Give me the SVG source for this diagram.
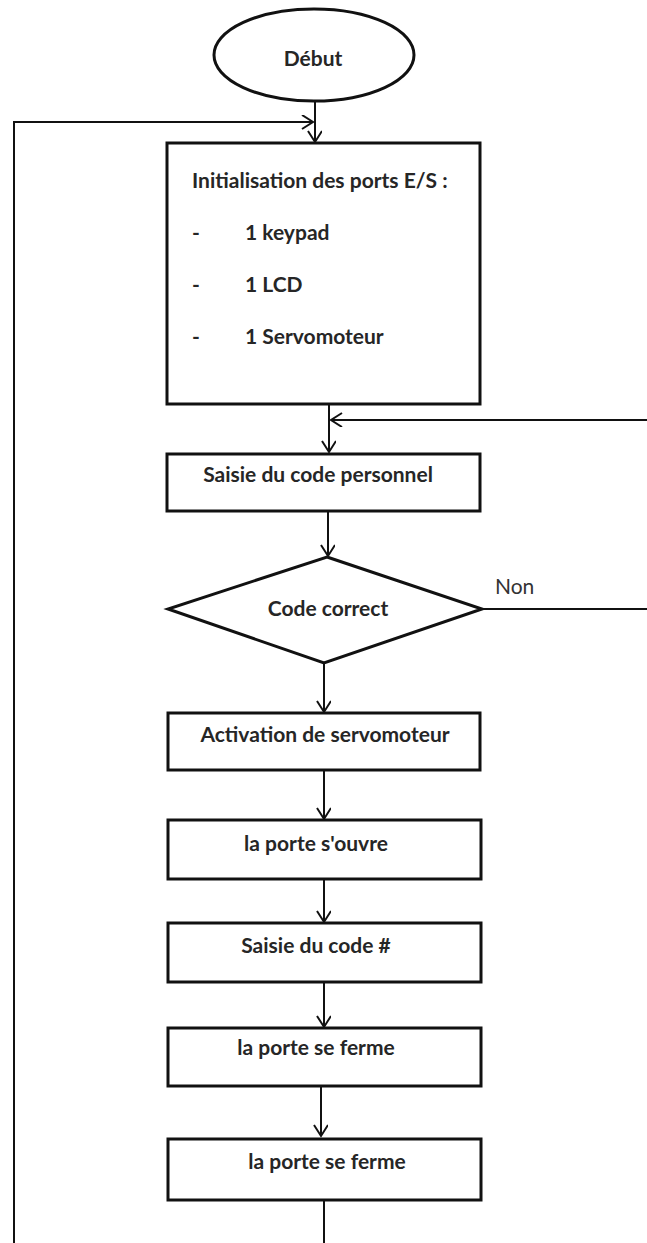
<svg xmlns="http://www.w3.org/2000/svg" width="647" height="1243" viewBox="0 0 647 1243">
<defs>
<style>
.box{fill:#fff;stroke:#111;stroke-width:3}
.conn{fill:none;stroke:#111;stroke-width:2}
.t{font-family:Lato,"Liberation Sans",sans-serif;font-weight:bold;font-size:21px;fill:#262626}
.c{text-anchor:middle}
.r{font-family:Lato,"Liberation Sans",sans-serif;font-weight:normal;font-size:21px;fill:#333}
</style>
<marker id="ah" markerUnits="userSpaceOnUse" markerWidth="14" markerHeight="16" refX="12" refY="7" orient="auto" viewBox="0 0 14 16">
<path d="M1,0 L12,7 L1,14" fill="none" stroke="#111" stroke-width="2"/>
</marker>
</defs>
<rect width="647" height="1243" fill="#fff"/>
<g id="connectors">
<path class="conn" d="M315,102 V142" marker-end="url(#ah)"/>
<path class="conn" d="M324,1200 V1252 H14 V122 H313" marker-end="url(#ah)"/>
<path class="conn" d="M329,404 V452" marker-end="url(#ah)"/>
<path class="conn" d="M482,609 H652 V420 H331" marker-end="url(#ah)"/>
<path class="conn" d="M328,511 V556" marker-end="url(#ah)"/>
<path class="conn" d="M324,663 V712" marker-end="url(#ah)"/>
<path class="conn" d="M324,770 V819" marker-end="url(#ah)"/>
<path class="conn" d="M324,879 V922" marker-end="url(#ah)"/>
<path class="conn" d="M324,982 V1027" marker-end="url(#ah)"/>
<path class="conn" d="M321,1086 V1136" marker-end="url(#ah)"/>
</g>
<g id="debut">
<ellipse class="box" cx="314" cy="55" rx="100" ry="46"/>
<text class="t c" x="313" y="66">Début</text>
</g>
<g id="init">
<rect class="box" x="167" y="143" width="313" height="261"/>
<text class="t" x="192" y="188">Initialisation des ports E/S :</text>
<text class="t" x="192" y="240">-</text>
<text class="t" x="245" y="240">1 keypad</text>
<text class="t" x="192" y="292">-</text>
<text class="t" x="245" y="292">1 LCD</text>
<text class="t" x="192" y="344">-</text>
<text class="t" x="245" y="344">1 Servomoteur</text>
</g>
<g id="saisie-code">
<rect class="box" x="167" y="454" width="313" height="57"/>
<text class="t c" x="318" y="482">Saisie du code personnel</text>
</g>
<g id="code-correct">
<polygon class="box" points="327,557 482,609 324,663 168,609"/>
<text class="t c" x="328" y="616">Code correct</text>
<text class="r" x="495" y="594">Non</text>
</g>
<g id="activation">
<rect class="box" x="168" y="713" width="312" height="57"/>
<text class="t c" x="325" y="742">Activation de servomoteur</text>
</g>
<g id="porte-ouvre">
<rect class="box" x="168" y="820" width="313" height="59"/>
<text class="t c" x="316" y="851">la porte s'ouvre</text>
</g>
<g id="saisie-diese">
<rect class="box" x="168" y="923" width="313" height="59"/>
<text class="t c" x="316" y="953">Saisie du code #</text>
</g>
<g id="porte-ferme-1">
<rect class="box" x="168" y="1028" width="313" height="58"/>
<text class="t c" x="316" y="1055">la porte se ferme</text>
</g>
<g id="porte-ferme-2">
<rect class="box" x="168" y="1139" width="313" height="61"/>
<text class="t c" x="327" y="1169">la porte se ferme</text>
</g>
</svg>
